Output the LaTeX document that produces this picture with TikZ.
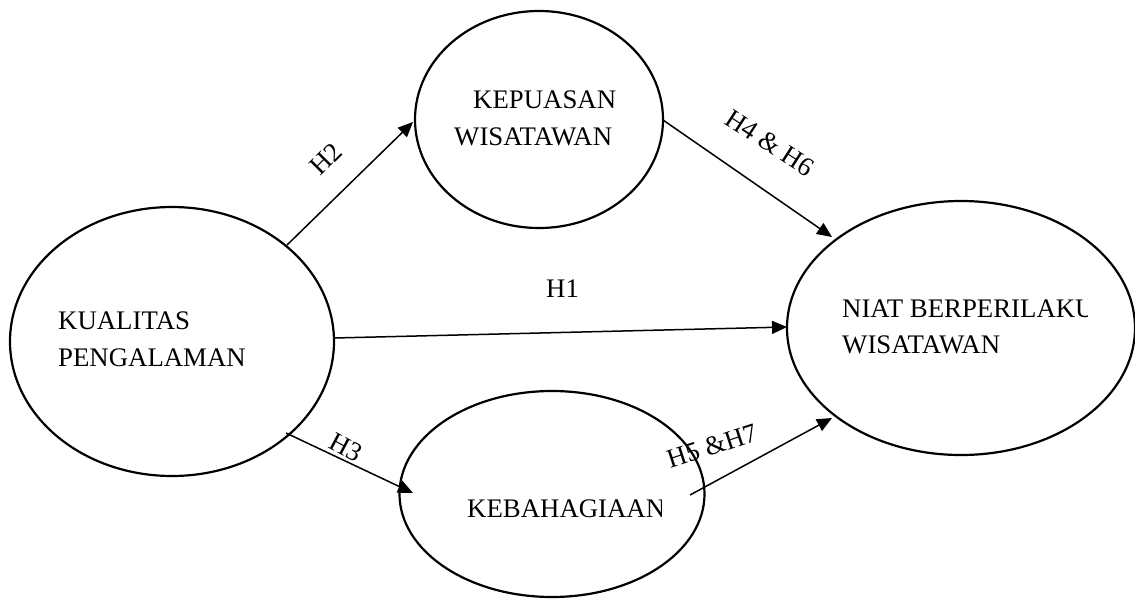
\documentclass[tikz,border=0pt]{standalone}
\usepackage{fontspec}
\setmainfont{Liberation Serif}
\usetikzlibrary{shapes.geometric,arrows.meta}
\begin{document}
\begin{tikzpicture}[x=1pt,y=-1pt,
  var/.style={draw, ellipse, line width=2.2pt, inner sep=0pt},
  txt/.style={inner sep=0pt, anchor=base west, font=\fontsize{26.8}{31}\selectfont},
  lbl/.style={inner sep=0pt, font=\fontsize{26.8}{31}\selectfont},
  conn/.style={line width=1.5pt, -{Triangle[length=15pt,width=13pt]}}]
\useasboundingbox[fill=white] (0,0) rectangle (1135,598);
% variables
\node[var, minimum width=324pt, minimum height=269pt] (kp) at (172,341.5) {};
\node[var, minimum width=248pt, minimum height=217pt] (kw) at (539,119.5) {};
\node[var, minimum width=348pt, minimum height=254pt] (nb) at (961,328) {};
\node[var, minimum width=305pt, minimum height=206pt] (kb) at (552,494) {};
% texts
\node[txt] (t1) at (58,329) {KUALITAS};
\node[txt] (t2) at (58,366) {PENGALAMAN};
\node[txt] (t3) at (473,108) {KEPUASAN};
\node[txt] (t4) at (454,145) {WISATAWAN};
\begin{scope}
\clip (0,0) rectangle (1087,598);
\node[txt] (t5) at (842,317) {NIAT BERPERILAKU};
\end{scope}
\node[txt] (t6) at (842,353) {WISATAWAN};
\begin{scope}
\clip (0,0) rectangle (661,598);
\node[txt] (t7) at (467,517) {KEBAHAGIAAN};
\end{scope}
% connector ends
\coordinate (a2s) at (287,245);  \coordinate (a2e) at (413,122);
\coordinate (a4s) at (663,120);  \coordinate (a4e) at (832,237);
\coordinate (a1s) at (334,338);  \coordinate (a1e) at (787,327);
\coordinate (a3s) at (286,433);  \coordinate (a3e) at (413,493);
\coordinate (a5s) at (690,495);  \coordinate (a5e) at (832,418);
\draw[conn] (a2s) -- (a2e);
\draw[conn] (a4s) -- (a4e);
\draw[conn] (a1s) -- (a1e);
\draw[conn] (a3s) -- (a3e);
\draw[conn] (a5s) -- (a5e);
% labels
\node[lbl, rotate=45] (l2) at (326,159) {H2};
\node[lbl, rotate=-33] (l4) at (770,143) {H4 \& H6};
\node[txt] (l1) at (546,297) {H1};
\node[lbl, rotate=-28] (l3) at (346,447) {H3};
\node[lbl, rotate=18] (l5) at (712,446) {H5 \&H7};
\end{tikzpicture}
\end{document}
